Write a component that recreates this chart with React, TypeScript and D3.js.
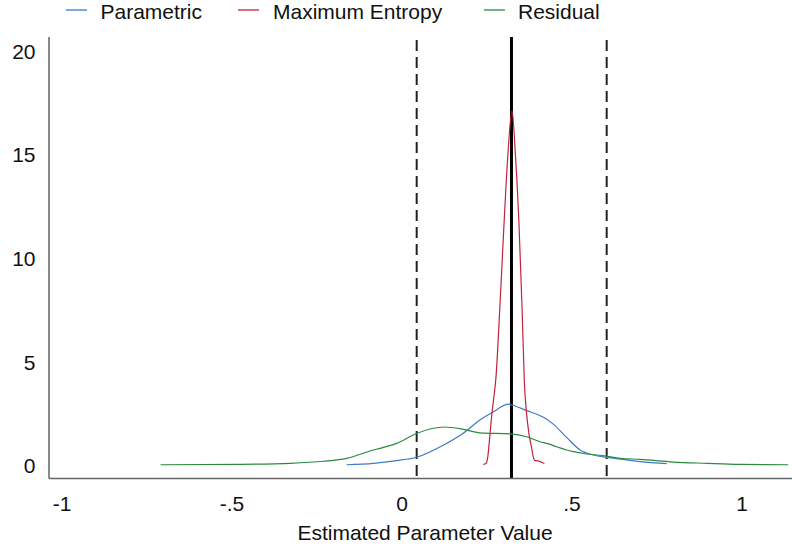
import React from "react";
import * as d3 from "d3";

// Kernel density estimates of the parameter under three estimators
const parametricX = [-0.163, -0.084, -0.016, 0.043, 0.121, 0.18, 0.229, 0.269, 0.313, 0.323, 0.367, 0.416, 0.445, 0.484, 0.524, 0.563, 0.602, 0.651, 0.7, 0.779];
const parametricY = [0.06, 0.13, 0.26, 0.42, 1.0, 1.58, 2.22, 2.62, 2.98, 2.94, 2.67, 2.35, 2.02, 1.38, 0.77, 0.53, 0.42, 0.32, 0.21, 0.11];

const maxEntX = [0.239, 0.247, 0.252, 0.257, 0.263, 0.27, 0.276, 0.288, 0.298, 0.311, 0.3235, 0.334, 0.344, 0.353, 0.36, 0.366, 0.373, 0.381, 0.386, 0.39, 0.398, 0.406, 0.413, 0.419];
const maxEntY = [0.08, 0.12, 0.4, 1.2, 2.3, 3.3, 4.2, 7.7, 11.0, 14.9, 17.13, 14.9, 11.7, 7.68, 4.0, 2.6, 1.6, 0.9, 0.45, 0.27, 0.25, 0.22, 0.16, 0.12];

const residualX = [-0.71, -0.476, -0.329, -0.231, -0.163, -0.084, -0.065, -0.016, 0.043, 0.125, 0.18, 0.229, 0.318, 0.367, 0.406, 0.426, 0.455, 0.484, 0.504, 0.543, 0.602, 0.641, 0.7, 0.798, 0.896, 0.994, 1.136];
const residualY = [0.06, 0.08, 0.13, 0.23, 0.37, 0.77, 0.85, 1.09, 1.57, 1.88, 1.77, 1.6, 1.55, 1.41, 1.17, 1.09, 0.93, 0.77, 0.69, 0.58, 0.48, 0.37, 0.32, 0.19, 0.13, 0.08, 0.06];

// Reference lines: point estimate and interval bounds
const trueValue = 0.322;
const boundValues = [0.0432, 0.602];

const xTickValues = [-1, -0.5, 0, 0.5, 1];
const xTickLabels = ["-1", "-.5", "0", ".5", "1"];
const yTickValues = [0, 5, 10, 15, 20];

const seriesNames = ["Parametric", "Maximum Entropy", "Residual"];
const seriesColors = ["#3b7bc8", "#c3223a", "#2b8a3e"];

const W = 793;
const H = 548;
const FONT = "'Liberation Sans', Arial, Helvetica, sans-serif";

export default function App() {
  const x = d3.scaleLinear().domain([-1, 1]).range([62, 742]);
  const y = d3.scaleLinear().domain([0, 20]).range([466, 51.3]);

  const axisLeft = 49;
  const axisRight = 792;
  const axisBottom = 478.5;
  const axisTop = 37;

  const line = d3
    .line<[number, number]>()
    .x((d) => x(d[0]))
    .y((d) => y(d[1]))
    .curve(d3.curveMonotoneX);

  const series = [
    d3.zip(parametricX, parametricY) as [number, number][],
    d3.zip(maxEntX, maxEntY) as [number, number][],
    d3.zip(residualX, residualY) as [number, number][],
  ];

  const legendLineX = [66, 238, 484];
  const legendTextX = [100.5, 273, 518];

  return (
    <svg
      width={W}
      height={H}
      style={{ position: "absolute", left: 0, top: 0, background: "#fff" }}
      fontFamily={FONT}
    >
      <rect width={W} height={H} fill="#fff" />

      {/* legend */}
      {seriesNames.map((name, i) => (
        <g key={name}>
          <line
            x1={legendLineX[i]}
            x2={legendLineX[i] + 21}
            y1={10}
            y2={10}
            stroke={seriesColors[i]}
            strokeWidth={1.3}
          />
          <text x={legendTextX[i]} y={18.5} fontSize={21} fill="#111">
            {name}
          </text>
        </g>
      ))}

      {/* reference lines */}
      {boundValues.map((v) => (
        <line
          key={v}
          x1={x(v)}
          x2={x(v)}
          y1={40}
          y2={axisBottom}
          stroke="#222"
          strokeWidth={2}
          strokeDasharray="11,6"
        />
      ))}
      <line
        x1={x(trueValue)}
        x2={x(trueValue)}
        y1={axisTop}
        y2={axisBottom}
        stroke="#000"
        strokeWidth={3}
      />

      {/* density curves */}
      {series.map((s, i) => (
        <path
          key={seriesNames[i]}
          d={line(s) ?? ""}
          fill="none"
          stroke={seriesColors[i]}
          strokeWidth={1.2}
        />
      ))}

      {/* axes */}
      <line x1={axisLeft} x2={axisLeft} y1={axisTop} y2={axisBottom} stroke="#111" strokeWidth={1} />
      <line x1={axisLeft} x2={axisRight} y1={axisBottom} y2={axisBottom} stroke="#666" strokeWidth={1.5} />

      {yTickValues.map((v) => (
        <text
          key={v}
          x={35.5}
          y={y(v)}
          dy="0.35em"
          textAnchor="end"
          fontSize={21}
          fill="#111"
        >
          {v}
        </text>
      ))}

      {xTickValues.map((v, i) => (
        <text
          key={v}
          x={x(v)}
          y={510.5}
          textAnchor="middle"
          fontSize={21}
          fill="#111"
        >
          {xTickLabels[i]}
        </text>
      ))}

      <text x={425} y={540} textAnchor="middle" fontSize={21} fill="#111">
        Estimated Parameter Value
      </text>
    </svg>
  );
}
